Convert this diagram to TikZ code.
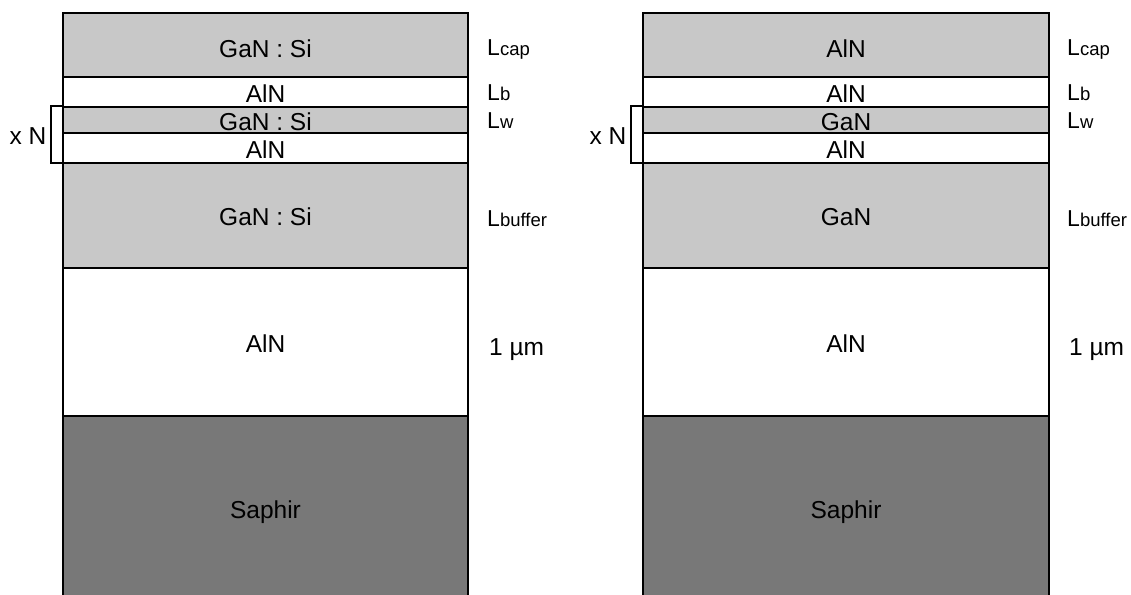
\documentclass[tikz,border=0pt]{standalone}
\usepackage{fontspec}
\setmainfont{Liberation Sans}
\definecolor{lightlayer}{RGB}{200,200,200}
\definecolor{sapphire}{RGB}{120,120,120}
\tikzset{
  layer/.style={draw=black, line width=1.6pt, inner sep=0pt, outer sep=0pt,
    font=\fontsize{24.5}{28}\selectfont, text height=20pt, text depth=0pt},
  gray layer/.style={layer, fill=lightlayer},
  white layer/.style={layer, fill=white},
  sub layer/.style={layer, fill=sapphire},
  lab/.style={anchor=base west, inner sep=0pt, font=\fontsize{23}{26}\selectfont},
  brk/.style={draw=black, line width=1.6pt},
}
\newcommand{\Lsub}[1]{L{\fontsize{18.5}{20}\selectfont #1}}
\begin{document}
\begin{tikzpicture}[x=1pt,y=-1pt]
\useasboundingbox (0,0) rectangle (1131,594);
\clip (0,0) rectangle (1131,594);
\fill[white] (0,0) rectangle (1131,594);
% ---------- stacks ----------
\foreach \cx/\w/\sfx/\capt/\wellt/\buft in {265.5/405/L/GaN : Si/GaN : Si/GaN : Si, 846/406/R/AlN/GaN/GaN}{
  \node[gray layer, minimum width=\w, minimum height=64, text height=25pt] (cap\sfx) at (\cx,45) {\capt};
  \node[white layer, minimum width=\w, minimum height=30] (bar\sfx) at (\cx,92) {AlN};
  \node[gray layer, minimum width=\w, minimum height=26] (well\sfx) at (\cx,120) {\wellt};
  \node[white layer, minimum width=\w, minimum height=30] (bartwo\sfx) at (\cx,148) {AlN};
  \node[gray layer, minimum width=\w, minimum height=105] (buf\sfx) at (\cx,215.5) {\buft};
  \node[white layer, minimum width=\w, minimum height=148] (aln\sfx) at (\cx,342) {AlN};
  \node[sub layer, minimum width=\w, minimum height=188, text height=17pt] (sub\sfx) at (\cx,510) {Saphir};
}
% brackets
\draw[brk] (51,106) rectangle (63,163);
\draw[brk] (631,106) rectangle (643,163);
\node[lab, anchor=base, font=\fontsize{24.5}{28}\selectfont] (xnL) at (28,144) {x N};
\node[lab, anchor=base, font=\fontsize{24.5}{28}\selectfont] (xnR) at (608,144) {x N};
% labels left
\node[lab] (lcapL) at (487,56) {\Lsub{cap}};
\node[lab] (lbL) at (487,100.5) {\Lsub{b}};
\node[lab] (lwL) at (487,128) {\Lsub{w}};
\node[lab] (lbufL) at (487,226) {\Lsub{buffer}};
\node[lab, font=\fontsize{24.5}{28}\selectfont] (lumL) at (489,355) {1 µm};
% labels right
\node[lab] (lcapR) at (1067,56) {\Lsub{cap}};
\node[lab] (lbR) at (1067,100.5) {\Lsub{b}};
\node[lab] (lwR) at (1067,128) {\Lsub{w}};
\node[lab] (lbufR) at (1067,226) {\Lsub{buffer}};
\node[lab, font=\fontsize{24.5}{28}\selectfont] (lumR) at (1069,355) {1 µm};
\end{tikzpicture}
\end{document}
